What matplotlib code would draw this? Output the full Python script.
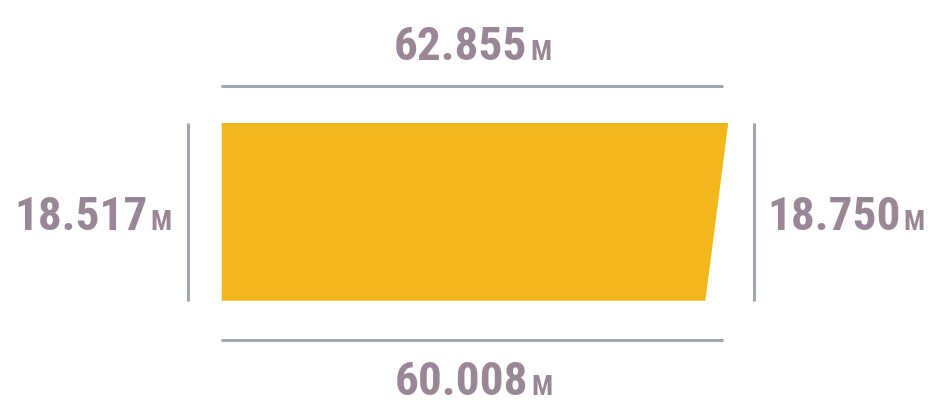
import matplotlib
matplotlib.use("Agg")
import matplotlib.pyplot as plt
from matplotlib.patches import Polygon
from matplotlib import font_manager as fm

# ---- data ----
top_length = 62.855
bottom_length = 60.008
left_height = 18.517
right_height = 18.750
unit = "M"

# ---- style ----
fill_color = "#F2B81B"
line_color = "#A1A5AD"
text_color = "#9A8796"
W, H = 929, 413
scale = 506.6 / top_length   # pixels per unit along the horizontal
x0 = 221.7                   # left edge of the shape in pixels


# pick the narrowest bold face available
def pick_font():
    cands = []
    for f in fm.fontManager.ttflist:
        n = f.name.lower()
        st = str(f.stretch).lower()
        narrow = ("narrow" in n or "condensed" in n or "condensed" in st
                  or st in ("semi-condensed", "extra-condensed", "ultra-condensed"))
        w = f.weight if isinstance(f.weight, int) else {"bold": 700}.get(str(f.weight), 400)
        if narrow and w >= 600 and "oblique" not in f.style and "italic" not in f.style:
            cands.append(f)
    if cands:
        pri = ["liberation sans narrow", "roboto condensed", "open sans condensed",
               "noto sans condensed", "dejavu sans condensed", "dejavu sans"]

        def key(f):
            n = f.name.lower()
            for i, p in enumerate(pri):
                if n.startswith(p):
                    return i
            return len(pri)
        cands.sort(key=key)
        return fm.FontProperties(fname=cands[0].fname)
    return fm.FontProperties(family="Roboto", weight="bold")


fp = pick_font()

fig = plt.figure(figsize=(W / 100, H / 100), dpi=100)
ax = fig.add_axes([0, 0, 1, 1])
ax.set_xlim(-x0 / scale, (W - x0) / scale)
ax.set_ylim(H, 0)
ax.axis("off")


def px(x):
    return (x - x0) / scale


shape_top, shape_bottom = 123.0, 300.7
trap = Polygon([(0, shape_top), (top_length, shape_top),
                (bottom_length, shape_bottom), (0, shape_bottom)],
               closed=True, facecolor=fill_color, edgecolor="none")
ax.add_patch(trap)

lw = 3 * 72 / 100
ax.plot([px(221), px(722.7)], [85.5, 85.5], color=line_color, lw=lw, solid_capstyle="butt")
ax.plot([px(221), px(722.7)], [339.5, 339.5], color=line_color, lw=lw, solid_capstyle="butt")
ax.plot([px(188.2), px(188.2)], [122.7, 300.7], color=line_color, lw=lw, solid_capstyle="butt")
ax.plot([px(754.5), px(754.5)], [122.7, 300.7], color=line_color, lw=lw, solid_capstyle="butt")

big, small = 34, 20
gap = 3
renderer = fig.canvas.get_renderer()


def label(value, center_px, baseline_px):
    p1 = fp.copy(); p1.set_size(big)
    p2 = fp.copy(); p2.set_size(small)
    t1 = ax.text(0, baseline_px, f"{value:.3f}", ha="right", va="baseline",
                 fontproperties=p1, color=text_color)
    t2 = ax.text(0, baseline_px, unit, ha="left", va="baseline",
                 fontproperties=p2, color=text_color)
    w1 = t1.get_window_extent(renderer).width
    w2 = t2.get_window_extent(renderer).width
    total = w1 + gap + w2
    anchor = center_px - total / 2 + w1
    t1.set_x(px(anchor))
    t2.set_x(px(anchor + gap))


label(top_length, 473, 60)
label(bottom_length, 473.5, 395)
label(left_height, 93, 230)
label(right_height, 846, 230)

fig.savefig("out.png", dpi=100)
